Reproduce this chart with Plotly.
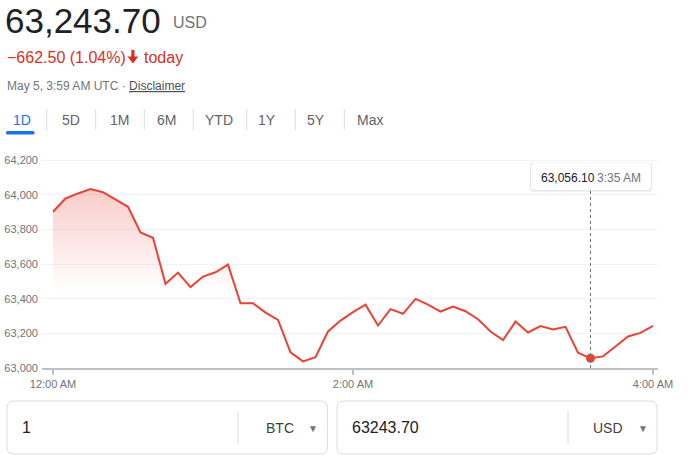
import pandas as pd
import plotly.graph_objects as go

# ---------------- data ----------------
times = pd.date_range("2021-05-05 00:00", periods=49, freq="5min")
prices = [63902, 63979, 64008, 64033, 64015, 63973, 63931, 63783, 63752, 63486,
          63551, 63467, 63528, 63553, 63597, 63374, 63374, 63320, 63278, 63090,
          63038, 63063, 63211, 63274, 63323, 63366, 63245, 63340, 63313, 63399,
          63366, 63326, 63355, 63328, 63282, 63211, 63161, 63268, 63205, 63242,
          63222, 63238, 63088, 63056.10, 63067, 63124, 63182, 63203, 63243.70]
y_ticks = [63000, 63200, 63400, 63600, 63800, 64000, 64200]
x_tick_idx = [0, 24, 48]
x_tick_text = ["12:00 AM", "2:00 AM", "4:00 AM"]
sel = 43  # highlighted point (3:35 AM)
tabs = ["1D", "5D", "1M", "6M", "YTD", "1Y", "5Y", "Max"]
price_text = "63,243.70"
currency = "USD"
change_text = "−662.50 (1.04%)"
stamp_text = "May 5, 3:59 AM UTC · "

# ---------------- layout geometry ----------------
W, H = 688, 462
L, R, T, B = 42, 30, 155, 94
PW, PH = W - L - R, H - T - B
FONT = "Arial, Liberation Sans, DejaVu Sans, sans-serif"
RED = "#ea4335"
TXTRED = "#d93025"
GRAY = "#70757a"


def px(x):
    return (x - L) / PW


def py(y):
    return (H - B - y) / PH


def P(x, y):
    return f"{px(x):.5f},{py(y):.5f}"


def rrect(x0, y0, x1, y1, r):
    return (f"M {P(x0 + r, y0)} L {P(x1 - r, y0)} Q {P(x1, y0)} {P(x1, y0 + r)} "
            f"L {P(x1, y1 - r)} Q {P(x1, y1)} {P(x1 - r, y1)} "
            f"L {P(x0 + r, y1)} Q {P(x0, y1)} {P(x0, y1 - r)} "
            f"L {P(x0, y0 + r)} Q {P(x0, y0)} {P(x0 + r, y0)} Z")


fig = go.Figure()
fig.add_trace(go.Scatter(
    x=times, y=prices, mode="lines",
    line=dict(color=RED, width=2),
    fill="tozeroy",
    fillgradient=dict(type="vertical", start=63450, stop=64040,
                      colorscale=[[0, "rgba(234,67,53,0)"], [1, "rgba(234,67,53,0.27)"]]),
    hoverinfo="skip",
))
fig.add_trace(go.Scatter(
    x=[times[sel]], y=[prices[sel]], mode="markers",
    marker=dict(color=RED, size=9), hoverinfo="skip",
))

shapes = []
ann = []

# dashed crosshair
shapes.append(dict(type="line", xref="x", yref="paper", x0=times[sel], x1=times[sel],
                   y0=0, y1=py(190), line=dict(color=GRAY, width=1, dash="dot")))
# tooltip box with soft shadow
shapes.append(dict(type="path", xref="paper", yref="paper", path=rrect(530, 163, 652, 192, 3),
                   fillcolor="rgba(0,0,0,0.06)", line=dict(width=0)))
shapes.append(dict(type="path", xref="paper", yref="paper", path=rrect(530.5, 162.5, 651.5, 190.5, 3),
                   fillcolor="rgba(0,0,0,0.08)", line=dict(width=0)))
shapes.append(dict(type="path", xref="paper", yref="paper", path=rrect(531, 163, 651, 190, 3),
                   fillcolor="white", line=dict(width=0)))
ann.append(dict(xref="paper", yref="paper", x=px(539), y=py(177.5), xanchor="left", yanchor="middle",
                text=f"{prices[sel]:,.2f}", showarrow=False, font=dict(family=FONT, size=12, color="#202124")))
ann.append(dict(xref="paper", yref="paper", x=px(643), y=py(177.5), xanchor="right", yanchor="middle",
                text=times[sel].strftime("%-I:%M %p"), showarrow=False, font=dict(family=FONT, size=12, color=GRAY)))

# header
ann.append(dict(xref="paper", yref="paper", x=px(4), y=py(0.3), xanchor="left", yanchor="top",
                borderpad=0,
                text=price_text, showarrow=False, font=dict(family=FONT, size=35, color="#202124")))
ann.append(dict(xref="paper", yref="paper", x=px(171), y=py(22.5), xanchor="left", yanchor="middle",
                text=currency, showarrow=False, font=dict(family=FONT, size=16, color=GRAY)))
ann.append(dict(xref="paper", yref="paper", x=px(5), y=py(57.5), xanchor="left", yanchor="middle",
                text=change_text, showarrow=False,
                font=dict(family=FONT, size=16, color=TXTRED)))
# heavy down arrow
arrow = (f"M {P(131.3, 50)} L {P(134.5, 50)} L {P(134.5, 56.5)} L {P(138.3, 56.5)} "
         f"L {P(132.9, 63.5)} L {P(127.5, 56.5)} L {P(131.3, 56.5)} Z")
shapes.append(dict(type="path", xref="paper", yref="paper", path=arrow,
                   fillcolor=TXTRED, line=dict(width=0)))
ann.append(dict(xref="paper", yref="paper", x=px(142), y=py(57.5), xanchor="left", yanchor="middle",
                text="today", showarrow=False,
                font=dict(family=FONT, size=16, color=TXTRED)))
ann.append(dict(xref="paper", yref="paper", x=px(5), y=py(86.5), xanchor="left", yanchor="middle",
                text=stamp_text + "<span style='color:#4d5156'><u>Disclaimer</u></span>", showarrow=False,
                font=dict(family=FONT, size=12, color=GRAY)))

# tabs
tab_x = [22.3, 70.7, 120, 166.7, 219.3, 266.7, 316, 370]
sep_x = [46.7, 95.7, 144.3, 193.3, 246.7, 295.3, 344.3]
for i, (t, x) in enumerate(zip(tabs, tab_x)):
    ann.append(dict(xref="paper", yref="paper", x=px(x), y=py(120), xanchor="center", yanchor="middle",
                    text=t, showarrow=False,
                    font=dict(family=FONT, size=14, color="#1a73e8" if i == 0 else "#5f6368")))
for x in sep_x:
    shapes.append(dict(type="line", xref="paper", yref="paper", x0=px(x), x1=px(x), y0=py(109), y1=py(130),
                       line=dict(color="#dadce0", width=1)))
shapes.append(dict(type="path", xref="paper", yref="paper", path=rrect(6, 131, 34.5, 134.5, 1.5),
                   fillcolor="#1a73e8", line=dict(width=0)))

# converter boxes
boxes = [(7, 327.5, 238, "1", "BTC"), (337, 657, 568, f"{prices[-1]:.2f}", currency)]
for x0, x1, sx, val, cur in boxes:
    shapes.append(dict(type="path", xref="paper", yref="paper", path=rrect(x0, 401, x1, 454, 7),
                       fillcolor="white", line=dict(color="#dadce0", width=1)))
    shapes.append(dict(type="line", xref="paper", yref="paper", x0=px(sx), x1=px(sx), y0=py(411), y1=py(444),
                       line=dict(color="#dadce0", width=1)))
    ann.append(dict(xref="paper", yref="paper", x=px(x0 + 13), y=py(427.5), xanchor="left", yanchor="middle",
                    text=val, showarrow=False, font=dict(family=FONT, size=16, color="#202124")))
    ann.append(dict(xref="paper", yref="paper", x=px(x1 - 32), y=py(427.5), xanchor="right", yanchor="middle",
                    text=cur, showarrow=False, font=dict(family=FONT, size=14, color="#3c4043")))
    ann.append(dict(xref="paper", yref="paper", x=px(x1 - 14.5), y=py(428), xanchor="center", yanchor="middle",
                    text="▼", showarrow=False, font=dict(family=FONT, size=10, color=GRAY)))

fig.update_layout(
    width=W, height=H, autosize=False,
    margin=dict(l=L, r=R, t=T, b=B, pad=0),
    paper_bgcolor="white", plot_bgcolor="white",
    showlegend=False,
    shapes=shapes, annotations=ann,
    xaxis=dict(type="date", automargin=False,
               range=[times[0] - pd.Timedelta(seconds=264), times[-1] + pd.Timedelta(seconds=120)],
               tickvals=[times[i] for i in x_tick_idx], ticktext=x_tick_text,
               showgrid=False, zeroline=False,
               showline=True, linecolor="#bdc1c6", linewidth=2,
               ticks="outside", ticklen=5, tickwidth=2, tickcolor="#bdc1c6",
               tickfont=dict(family=FONT, size=11, color=GRAY), fixedrange=True),
    yaxis=dict(range=[63000, 64230], tickvals=y_ticks, tickformat=",", automargin=False,
               showgrid=True, gridcolor="#f1f3f4", gridwidth=1, zeroline=False,
               showline=False, ticks="", ticklabelstandoff=3,
               tickfont=dict(family=FONT, size=11, color=GRAY), fixedrange=True),
)

fig.write_html("out.html", config={"displayModeBar": False})
